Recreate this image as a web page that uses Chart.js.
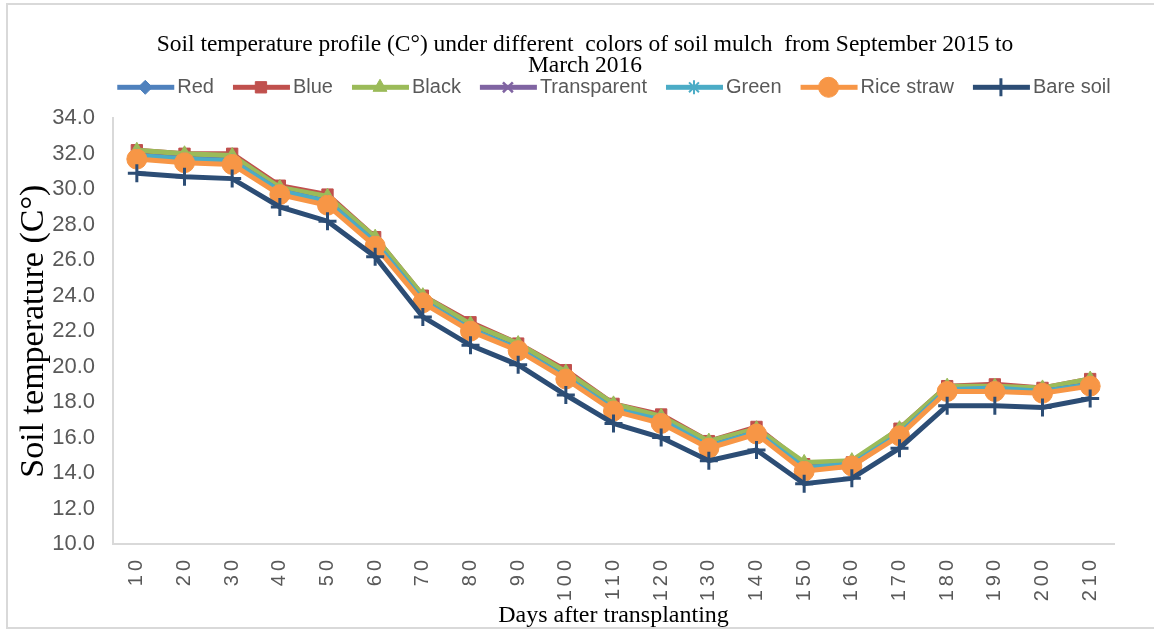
<!DOCTYPE html>
<html>
<head>
<meta charset="utf-8">
<script src="https://cdn.jsdelivr.net/npm/chart.js@4"></script>
<style>
  html, body { margin: 0; padding: 0; background: #fff; }
  #wrap { width: 1154px; height: 630px; position: relative; }
</style>
</head>
<body>
<div id="wrap"><canvas id="chart1"></canvas></div>
<script>
// days after transplanting
const days = ['10', '20', '30', '40', '50', '60', '70', '80', '90', '100', '110',
              '120', '130', '140', '150', '160', '170', '180', '190', '200', '210'];

// soil temperature (C°) per mulch colour
const red         = [32.0, 31.8, 31.7, 30.0, 29.4, 27.1, 23.8, 22.2, 21.1, 19.5, 17.7, 17.0, 15.6, 16.4, 14.3, 14.5, 16.3, 18.7, 18.8, 18.7, 19.1];
const blue        = [32.2, 32.0, 32.0, 30.2, 29.7, 27.3, 24.0, 22.5, 21.3, 19.8, 17.9, 17.3, 15.8, 16.6, 14.5, 14.6, 16.5, 18.9, 19.0, 18.8, 19.3];
const black       = [32.2, 32.0, 31.9, 30.1, 29.6, 27.3, 24.0, 22.4, 21.3, 19.7, 17.9, 17.2, 15.8, 16.5, 14.6, 14.7, 16.5, 18.9, 18.9, 18.8, 19.3];
const transparent = [31.9, 31.7, 31.6, 29.9, 29.3, 27.0, 23.7, 22.1, 21.0, 19.4, 17.6, 16.9, 15.5, 16.3, 14.2, 14.4, 16.2, 18.7, 18.7, 18.6, 19.0];
const green       = [31.9, 31.7, 31.6, 29.9, 29.3, 27.0, 23.7, 22.1, 21.0, 19.4, 17.6, 17.0, 15.5, 16.3, 14.3, 14.5, 16.2, 18.7, 18.8, 18.6, 19.0];
const riceStraw   = [31.7, 31.5, 31.4, 29.7, 29.1, 26.8, 23.6, 22.0, 20.9, 19.3, 17.5, 16.8, 15.4, 16.2, 14.1, 14.4, 16.1, 18.6, 18.6, 18.5, 18.9];
const bareSoil    = [30.9, 30.7, 30.6, 29.0, 28.2, 26.2, 22.8, 21.2, 20.1, 18.4, 16.8, 16.0, 14.7, 15.3, 13.4, 13.7, 15.4, 17.8, 17.8, 17.7, 18.2];

const yTicks = [10, 12, 14, 16, 18, 20, 22, 24, 26, 28, 30, 32, 34];

function series(label, values, color, style, radius, bw) {
    return {
        label: label,
        data: values,
        borderColor: color,
        backgroundColor: color,
        borderWidth: 5,
        pointStyle: style,
        pointRadius: radius,
        pointBorderWidth: bw,
        pointBackgroundColor: color,
        pointBorderColor: color,
        tension: 0
    };
}

const dsets = [
    series('Red', red, '#4F81BD', 'rectRot', 7, 1),
    series('Blue', blue, '#C0504D', 'rect', 8, 1),
    series('Black', black, '#9BBB59', 'triangle', 8, 1),
    series('Transparent', transparent, '#8064A2', 'crossRot', 7, 2.5),
    series('Green', green, '#4BACC6', 'star', 7, 2),
    series('Rice straw', riceStraw, '#F79646', 'circle', 10, 1),
    series('Bare soil', bareSoil, '#2C4D75', 'cross', 9, 3)
];
// later series drawn on top, like the original
dsets.forEach((d, i) => { d.order = dsets.length - i; });

const LEGEND_DX = 53;   // legend sits right of centre in the original
const TITLE_DX = 24;

// outer frame + white background
const framePlugin = {
    id: 'frame',
    beforeDraw(chart) {
        const c = chart.ctx;
        c.save();
        c.fillStyle = '#fff';
        c.fillRect(0, 0, chart.width, chart.height);
        c.strokeStyle = '#d9d9d9';
        c.lineWidth = 2;
        c.strokeRect(7, 4, 1160, 624);
        c.restore();
    }
};

// line + marker for each legend entry
const legendMarks = {
    id: 'legendMarks',
    afterDraw(chart) {
        const lg = chart.legend;
        if (!lg || !lg.legendHitBoxes) return;
        const c = chart.ctx;
        const fs = 20;
        lg.legendItems.forEach((item, i) => {
            const hb = lg.legendHitBoxes[i];
            const ds = chart.data.datasets[item.datasetIndex];
            const x0 = hb.left + LEGEND_DX;
            const y = hb.top + fs / 2;
            c.save();
            c.fillStyle = ds.borderColor;
            c.fillRect(x0, y - 2.5, 57, 5);
            c.fillStyle = ds.pointBackgroundColor;
            c.strokeStyle = ds.pointBorderColor;
            c.lineWidth = ds.pointBorderWidth;
            Chart.helpers.drawPoint(c, {
                pointStyle: ds.pointStyle,
                radius: ds.pointRadius,
                borderWidth: ds.pointBorderWidth,
                rotation: 0
            }, x0 + 28, y);
            c.restore();
        });
    }
};

const ctx = document.getElementById('chart1').getContext('2d');
const myChart = new Chart(ctx, {
    type: 'line',
    data: { labels: days, datasets: dsets },
    plugins: [framePlugin, legendMarks],
    options: {
        responsive: true,
        maintainAspectRatio: false,
        animation: false,
        layout: { padding: { left: 8, right: 40, top: 0, bottom: 0 } },
        plugins: {
            title: {
                display: true,
                text: ['Soil temperature profile (C°) under different  colors of soil mulch  from September 2015 to', 'March 2016'],
                font: { family: 'Liberation Serif', size: 23.5, weight: 'normal', lineHeight: 0.9 },
                color: '#000',
                padding: { top: 34, bottom: -18 }
            },
            legend: {
                position: 'top',
                labels: {
                    boxWidth: 50,
                    boxHeight: 5,
                    padding: 19,
                    color: '#595959',
                    font: { family: 'Liberation Sans', size: 20 },
                    sort: (a, b) => a.datasetIndex - b.datasetIndex,
                    generateLabels: function(chart) {
                        const items = Chart.defaults.plugins.legend.labels.generateLabels(chart);
                        items.forEach(it => {
                            it.lineWidth = 0;
                            it.fillStyle = 'rgba(0,0,0,0)';
                        });
                        return items;
                    }
                }
            },
            tooltip: { enabled: false }
        },
        scales: {
            x: {
                offset: true,
                grid: { display: false, drawTicks: false },
                border: { display: true, color: '#d9d9d9', width: 2 },
                ticks: {
                    autoSkip: false,
                    minRotation: 90,
                    maxRotation: 90,
                    padding: 12,
                    color: '#595959',
                    font: { family: 'Liberation Sans', size: 20 }
                },
                title: {
                    display: true,
                    text: 'Days after transplanting',
                    color: '#000',
                    font: { family: 'Liberation Serif', size: 24 },
                    padding: { top: 0, bottom: 0 }
                },
                afterFit: function(scale) { scale.height = 86; }
            },
            y: {
                min: 10,
                max: 34,
                afterBuildTicks: function(scale) {
                    scale.ticks = yTicks.map(v => ({ value: v }));
                },
                grid: { display: false, drawTicks: false },
                border: { display: true, color: '#d9d9d9', width: 2 },
                ticks: {
                    padding: 18,
                    color: '#595959',
                    font: { family: 'Liberation Sans', size: 22 },
                    callback: v => v.toFixed(1)
                },
                title: {
                    display: true,
                    text: 'Soil temperature (C°)',
                    color: '#000',
                    font: { family: 'Liberation Serif', size: 34 },
                    padding: { top: 6, bottom: 0 }
                },
                afterFit: function(scale) { scale.width = 105; }
            }
        }
    }
});

// more room under the legend, and shift legend / title like the original
const legendFit = myChart.legend.fit;
myChart.legend.fit = function() {
    legendFit.call(this);
    this.height += 11;
};
const legendDraw = myChart.legend.draw;
myChart.legend.draw = function() {
    this.ctx.save();
    this.ctx.translate(LEGEND_DX, 0);
    legendDraw.apply(this, arguments);
    this.ctx.restore();
};
const titleDraw = myChart.titleBlock.draw;
myChart.titleBlock.draw = function() {
    this.ctx.save();
    this.ctx.translate(TITLE_DX, 0);
    titleDraw.apply(this, arguments);
    this.ctx.restore();
};
// spaced-out day labels, as in the original
const xLabels = myChart.scales.x.drawLabels;
myChart.scales.x.drawLabels = function() {
    this.ctx.save();
    this.ctx.letterSpacing = '4px';
    xLabels.apply(this, arguments);
    this.ctx.restore();
};
myChart.update();
</script>
</body>
</html>
